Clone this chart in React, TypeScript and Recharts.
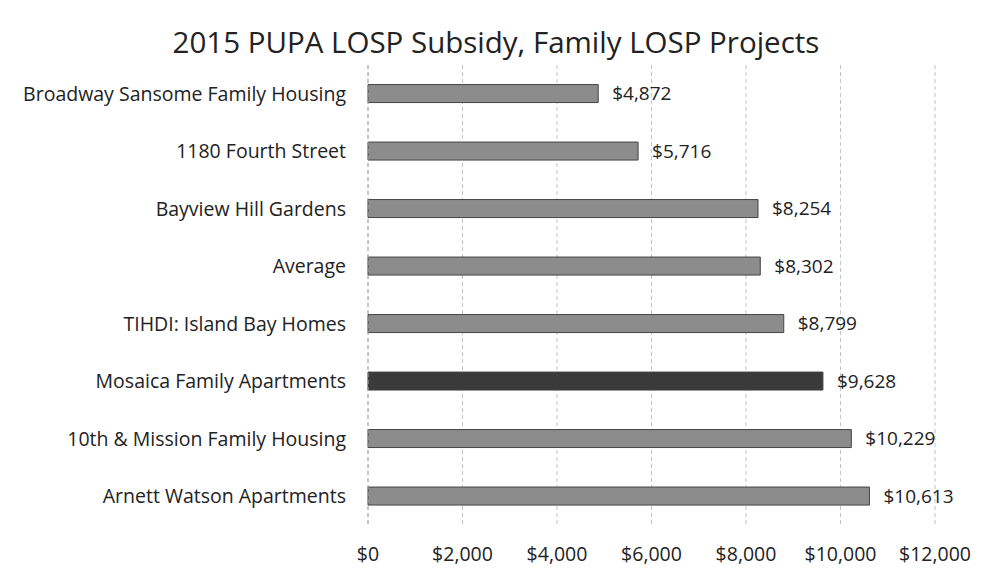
import { BarChart, Bar, XAxis, YAxis, CartesianGrid, Cell, LabelList } from 'recharts';

const projects = [
  'Broadway Sansome Family Housing',
  '1180 Fourth Street',
  'Bayview Hill Gardens',
  'Average',
  'TIHDI: Island Bay Homes',
  'Mosaica Family Apartments',
  '10th & Mission Family Housing',
  'Arnett Watson Apartments',
];

const subsidy = [4872, 5716, 8254, 8302, 8799, 9628, 10229, 10613];

const xTicks = [0, 2000, 4000, 6000, 8000, 10000, 12000];

const highlight = 'Mosaica Family Apartments';

const data = projects.map((name, i) => ({ name, value: subsidy[i] }));

const money = (v: number) => `$${v.toLocaleString('en-US')}`;

const FONT = '"Open Sans", Lato, sans-serif';

export default function App() {
  return (
    <div style={{ position: 'absolute', left: 0, top: 0, width: 992, height: 583, background: '#fff', fontFamily: FONT }}>
      <div
        style={{
          position: 'absolute',
          left: 0,
          right: 0,
          top: 21,
          textAlign: 'center',
          fontSize: 29.5,
          color: '#222',
        }}
      >
        2015 PUPA LOSP Subsidy, Family LOSP Projects
      </div>
      <BarChart
        width={992}
        height={583}
        data={data}
        layout="vertical"
        margin={{ top: 65, right: 57, bottom: 28, left: 0 }}
        barCategoryGap="34%"
      >
        <CartesianGrid horizontal={false} stroke="#c4c4c4" strokeDasharray="4 3" />
        <XAxis
          type="number"
          domain={[0, 12000]}
          ticks={xTicks}
          tickFormatter={money}
          axisLine={false}
          tickLine={false}
          tickSize={0}
          tickMargin={22}
          tick={{ fill: '#222', fontSize: 19.5, fontFamily: FONT }}
        />
        <YAxis
          type="category"
          dataKey="name"
          width={368}
          axisLine={{ stroke: '#aaa', strokeDasharray: '4 3' }}
          tickLine={false}
          tickSize={0}
          tickMargin={22}
          tick={{ fill: '#222', fontSize: 19.5, fontFamily: FONT }}
        />
        <Bar dataKey="value" isAnimationActive={false} stroke="#444" strokeWidth={1}>
          {data.map((d) => (
            <Cell key={d.name} fill={d.name === highlight ? '#3a3a3a' : '#8c8c8c'} />
          ))}
          <LabelList
            dataKey="value"
            position="right"
            offset={14}
            formatter={(v: number) => money(v)}
            style={{ fill: '#222', fontSize: 19, fontFamily: FONT }}
          />
        </Bar>
      </BarChart>
    </div>
  );
}
